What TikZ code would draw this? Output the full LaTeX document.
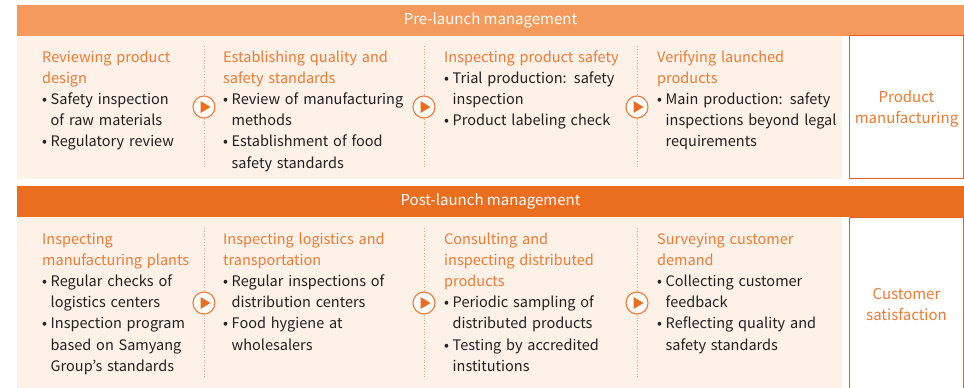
\documentclass[tikz,border=0pt]{standalone}
\usepackage{fontspec}
\usetikzlibrary{calc}
\setmainfont{Noto Sans CJK KR}
\definecolor{barA}{HTML}{F49A5C}
\definecolor{barB}{HTML}{EB6E20}
\definecolor{beige}{HTML}{FDF1E8}
\definecolor{hdcol}{HTML}{EE7A35}
\definecolor{txt}{HTML}{231F20}
\definecolor{boxcol}{HTML}{EF5A2B}
\definecolor{sepcol}{HTML}{E9A882}
\newcommand{\hd}{\color{hdcol}}
\newcommand{\bul}{\makebox[8.5pt][l]{•}}
\newcommand{\ind}{\hspace*{8.5pt}}
\tikzset{
  bartext/.style={text=white,font=\fontsize{15}{18}\selectfont},
  col/.style={anchor=base west,inner sep=0,text width=200pt,align=left,text=txt,font=\fontsize{14.5}{21.2}\selectfont},
  endbox/.style={draw=boxcol,line width=0.9pt,fill=white},
  endtext/.style={text=hdcol,align=center,font=\fontsize{15}{21}\selectfont},
  sepline/.style={draw=sepcol,line width=0.8pt,dotted},
  play/.style={circle,draw=hdcol,line width=1.1pt,fill=white,minimum size=22pt,inner sep=0},
}
\begin{document}
\begin{tikzpicture}[x=1pt,y=-1pt]
\useasboundingbox (0,0) rectangle (964,388);
% ---- pre-launch ----
\fill[barA] (17,5) rectangle (964,35.5);
\node[bartext] (preT) at (490.5,20.5) {Pre-launch management};
\fill[beige] (17,35.5) rectangle (842,179);
\draw[endbox] (849.5,35.5) rectangle (963.5,178.5);
\node[endtext] (preE) at (906.5,109) {Product\\manufacturing};
\coordinate (s1a) at (204,46); \coordinate (s1b) at (204,167);
\coordinate (s2a) at (424,46); \coordinate (s2b) at (424,167);
\coordinate (s3a) at (637,46); \coordinate (s3b) at (637,167);
\draw[sepline] (s1a) -- (s1b);
\draw[sepline] (s2a) -- (s2b);
\draw[sepline] (s3a) -- (s3b);
\node[col] (p1) at (42,62) {{\hd Reviewing product\\design}\\
\bul Safety inspection\\
\ind of raw materials\\
\bul Regulatory review};
\node[col] (p2) at (223,62) {{\hd Establishing quality and\\safety standards}\\
\bul Review of manufacturing\\
\ind methods\\
\bul Establishment of food\\
\ind safety standards};
\node[col] (p3) at (444,62) {{\hd Inspecting product safety}\\
\bul Trial production: safety\\
\ind inspection\\
\bul Product labeling check};
\node[col] (p4) at (657,62) {{\hd Verifying launched\\products}\\
\bul Main production: safety\\
\ind inspections beyond legal\\
\ind requirements};
\foreach \i/\xx in {1/204,2/424,3/637}{
  \node[play] (pp\i) at (\xx,107) {};
  \fill[barB] ($(pp\i)+(-3.5,-6)$) -- ($(pp\i)+(6.5,0)$) -- ($(pp\i)+(-3.5,6)$) -- cycle;
}
% ---- post-launch ----
\fill[barB] (17,186) rectangle (964,217);
\node[bartext] (postT) at (490.5,201.5) {Post-launch management};
\fill[beige] (17,217) rectangle (842,388);
\draw[endbox] (849.5,217.5) -- (849.5,390) (963.5,217.5) -- (963.5,390) (849.5,217.5) -- (963.5,217.5);
\node[endtext] (postE) at (906.5,304.5) {Customer\\satisfaction};
\coordinate (t1a) at (204,228); \coordinate (t1b) at (204,379);
\coordinate (t2a) at (424,228); \coordinate (t2b) at (424,379);
\coordinate (t3a) at (637,228); \coordinate (t3b) at (637,379);
\draw[sepline] (t1a) -- (t1b);
\draw[sepline] (t2a) -- (t2b);
\draw[sepline] (t3a) -- (t3b);
\node[col] (q1) at (42,244) {{\hd Inspecting\\manufacturing plants}\\
\bul Regular checks of\\
\ind logistics centers\\
\bul Inspection program\\
\ind based on Samyang\\
\ind Group’s standards};
\node[col] (q2) at (223,244) {{\hd Inspecting logistics and\\transportation}\\
\bul Regular inspections of\\
\ind distribution centers\\
\bul Food hygiene at\\
\ind wholesalers};
\node[col] (q3) at (444,244) {{\hd Consulting and\\inspecting distributed\\products}\\
\bul Periodic sampling of\\
\ind distributed products\\
\bul Testing by accredited\\
\ind institutions};
\node[col] (q4) at (657,244) {{\hd Surveying customer\\demand}\\
\bul Collecting customer\\
\ind feedback\\
\bul Reflecting quality and\\
\ind safety standards};
\foreach \i/\xx in {1/204,2/424,3/637}{
  \node[play] (qq\i) at (\xx,303) {};
  \fill[barB] ($(qq\i)+(-3.5,-6)$) -- ($(qq\i)+(6.5,0)$) -- ($(qq\i)+(-3.5,6)$) -- cycle;
}
\end{tikzpicture}
\end{document}
